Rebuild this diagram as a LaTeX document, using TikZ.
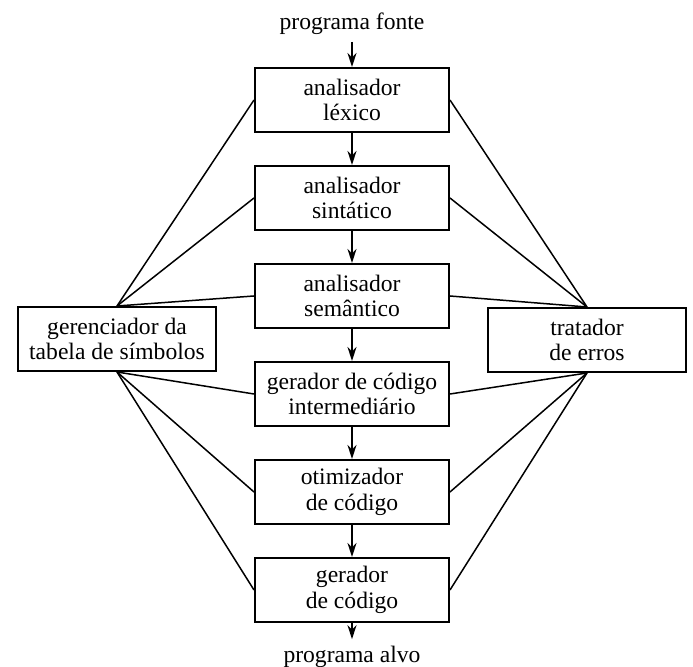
\documentclass[tikz,border=0pt]{standalone}
\usepackage{fontspec}
\setmainfont{Liberation Serif}
\usetikzlibrary{arrows.meta, positioning}

\begin{document}
\begin{tikzpicture}[x=0.5pt, y=-0.5pt,
    font=\fontsize{11.8}{12.9}\selectfont,
    fase/.style={draw, line width=1pt, minimum width=97pt, minimum height=32pt, align=center, inner sep=2pt},
    apoio/.style={draw, line width=1pt, minimum width=99pt, minimum height=32pt, align=center, inner sep=2pt},
    liga/.style={line width=0.75pt},
    seta/.style={-{Stealth[length=7pt, width=4.5pt]}, line width=0.85pt}]
    \useasboundingbox (0,0) rectangle (693,667);

    % Entrada e fases do compilador
    \node (fonte) at (352,24) {programa fonte};
    \node[fase] (lex) at (352,100) {analisador\\léxico};
    \node[fase, below=16pt of lex] (sin) {analisador\\sintático};
    \node[fase, below=16pt of sin] (sem) {analisador\\semântico};
    \node[fase, below=16pt of sem] (inter) {gerador de código\\intermediário};
    \node[fase, below=16pt of inter] (otim) {otimizador\\de código};
    \node[fase, below=16pt of otim] (ger) {gerador\\de código};
    \node (alvo) at (352,657) {programa alvo};

    % Tabela de simbolos e erros
    \node[apoio] (tab) at (117,339) {gerenciador da\\tabela de símbolos};
    \node[apoio] (err) at (587,340) {tratador\\de erros};

    % Setas entre as fases
    \draw[seta] (fonte) -- (lex);
    \draw[seta] (lex) -- (sin);
    \draw[seta] (sin) -- (sem);
    \draw[seta] (sem) -- (inter);
    \draw[seta] (inter) -- (otim);
    \draw[seta] (otim) -- (ger);
    \draw[seta] (ger) -- (alvo);

    % Ligacoes laterais
    \foreach \f in {lex, sin, sem} {
        \draw[liga] (tab.north) -- (\f.west);
        \draw[liga] (err.north) -- (\f.east);
    }
    \foreach \f in {inter, otim, ger} {
        \draw[liga] (tab.south) -- (\f.west);
        \draw[liga] (err.south) -- (\f.east);
    }
\end{tikzpicture}
\end{document}
